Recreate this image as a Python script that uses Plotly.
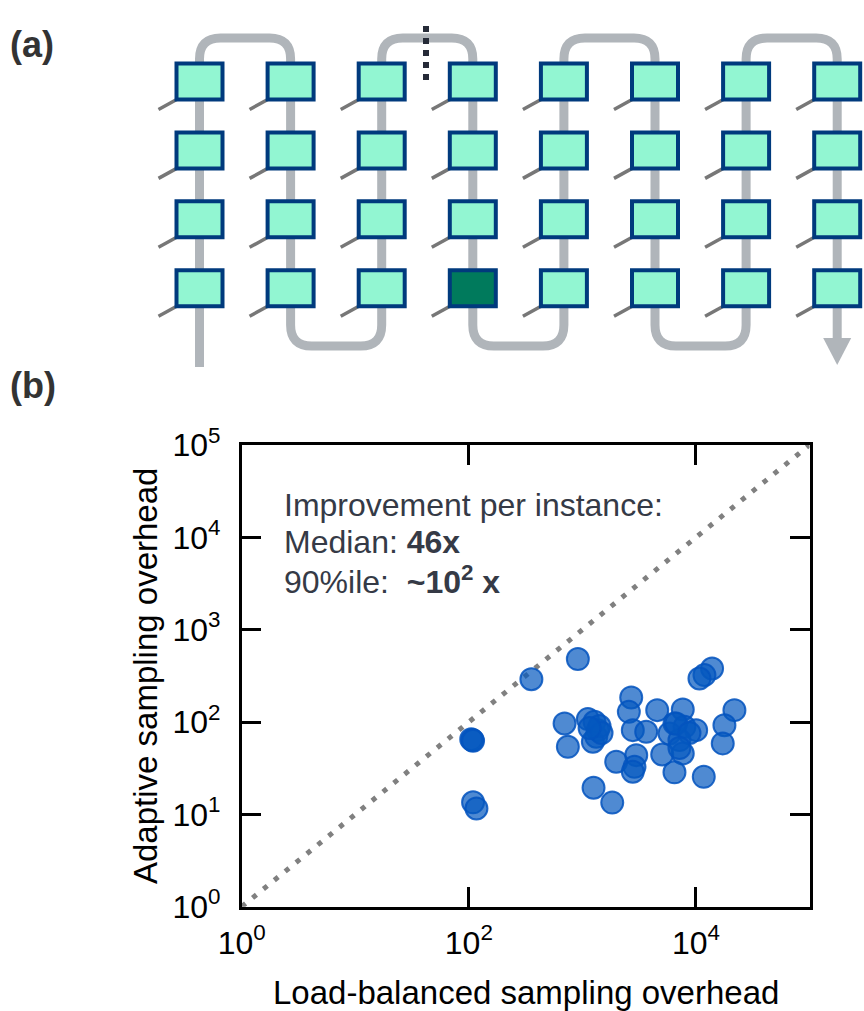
import plotly.graph_objects as go

# ---------------- data (panel b) ----------------
load_balanced = [107.6, 105, 109, 109, 116.7, 355.6, 912, 13870, 11885, 10740,
                 2692, 2565, 4560, 7655, 21820, 697, 1117, 1279, 1368, 1325,
                 1237, 745, 2780, 3648, 6470, 7925, 10045, 5845, 17820, 17220,
                 7160, 7655, 5045, 2980, 1986, 2877, 2780, 6470, 11720, 1254,
                 1832, 6690, 8770, 7160, 1416, 1475, 1157]
adaptive = [63.7, 65, 62.5, 13.5, 11.6, 291, 480, 380, 322, 296,
            184.6, 128.8, 134.5, 136.9, 134.5, 96.6, 107.5, 100.5, 81.7, 69.2,
            61.1, 53.9, 81.7, 78.3, 96.6, 88.7, 81.7, 75.3, 92.5, 58.7,
            63.7, 45.7, 44.6, 43.8, 37.1, 32.7, 28.9, 28.5, 25.5, 19.4,
            13.4, 96.6, 75.9, 52.2, 90.3, 75.9, 85.9]
diag = [1, 1e5]
y_tickvals = [1, 10, 100, 1e3, 1e4, 1e5]
y_ticktext = ["10<sup>0</sup>", "10<sup>1</sup>", "10<sup>2</sup>",
              "10<sup>3</sup>", "10<sup>4</sup>", "10<sup>5</sup>"]
x_tickvals = [1, 100, 1e4]
x_ticktext = ["10<sup>0</sup>", "10<sup>2</sup>", "10<sup>4</sup>"]

# ---------------- schematic (panel a) ----------------
n_cols = 8
n_rows = 4
highlight = (3, 3)  # (column, row)

W, H = 864, 1011
FONT = "Liberation Sans, Arial, sans-serif"

fig = go.Figure()

fig.add_trace(go.Scatter(x=diag, y=diag, mode="lines",
                         line=dict(color="#808080", width=5, dash="5px,9px"),
                         hoverinfo="skip", showlegend=False))
fig.add_trace(go.Scatter(x=load_balanced, y=adaptive, mode="markers",
                         marker=dict(size=22, color="rgba(4,88,191,0.70)",
                                     line=dict(color="rgba(4,84,190,0.85)", width=2)),
                         showlegend=False))

# pixel-space overlay axes for schematic
fig.add_trace(go.Scatter(x=[430], y=[200], xaxis="x2", yaxis="y2", mode="markers",
                         marker=dict(size=1, opacity=0), showlegend=False, hoverinfo="skip"))

shapes = []
col_x = [199.5 + 91.1 * i for i in range(n_cols)]
row_y = [81.5 + 68.9 * j for j in range(n_rows)]
T, B, S, r = 38, 346, 367, 21
pipe = "#b0b5ba"

# serpentine pipe
p = f"M {col_x[0]},{S} L {col_x[0]},{T + r}"
for i in range(n_cols - 1):
    a, b = col_x[i], col_x[i + 1]
    if i % 2 == 0:  # top connection
        p += f" Q {a},{T} {a + r},{T} L {b - r},{T} Q {b},{T} {b},{T + r}"
        nxt = B - r if i + 1 < n_cols - 1 else 338
        p += f" L {b},{nxt}"
    else:  # bottom connection
        p += f" Q {a},{B} {a + r},{B} L {b - r},{B} Q {b},{B} {b},{B - r} L {b},{T + r}"
shapes.append(dict(type="path", path=p, xref="x2", yref="y2",
                   line=dict(color=pipe, width=9), layer="above"))
cx = col_x[-1]
shapes.append(dict(type="path", path=f"M {cx - 14},{338} L {cx + 14},{338} L {cx},{365} Z",
                   xref="x2", yref="y2", fillcolor=pipe, line=dict(width=0), layer="above"))

# dotted cut line
shapes.append(dict(type="line", x0=426, x1=426, y0=26, y1=84, xref="x2", yref="y2",
                   line=dict(color="#262b38", width=6, dash="dot"), layer="above"))

bw, bh = 23, 18
for i in range(n_cols):
    for j in range(n_rows):
        x, y = col_x[i], row_y[j]
        shapes.append(dict(type="line", x0=x - bw - 18, y0=y + bh + 10, x1=x - bw + 2, y1=y + bh - 1,
                           xref="x2", yref="y2", line=dict(color="#777777", width=3.5), layer="above"))
for i in range(n_cols):
    for j in range(n_rows):
        x, y = col_x[i], row_y[j]
        fill = "#007a5c" if (i, j) == highlight else "#92f6d2"
        shapes.append(dict(type="rect", x0=x - bw, x1=x + bw, y0=y - bh, y1=y + bh,
                           xref="x2", yref="y2", fillcolor=fill,
                           line=dict(color="#003a7d", width=4), layer="above"))

x0p, x1p = 241.7 / W, 809.5 / W
y0p, y1p = 1 - 906.7 / H, 1 - 445 / H

axis_common = dict(type="log", range=[0, 5], showgrid=False, zeroline=False,
                   showline=True, linecolor="black", linewidth=2.5, mirror="allticks",
                   ticks="inside", ticklen=20, tickwidth=2.5, tickcolor="black",
                   automargin=False,
                   tickfont=dict(family=FONT, size=32, color="black"))

fig.update_layout(
    template="none",
    width=W, height=H, margin=dict(l=0, r=0, t=0, b=0, pad=0, autoexpand=False),
    paper_bgcolor="white", plot_bgcolor="rgba(0,0,0,0)", showlegend=False,
    xaxis=dict(domain=[x0p, x1p], tickvals=x_tickvals, ticktext=x_ticktext,
               ticklabelstandoff=6, **axis_common),
    yaxis=dict(domain=[y0p, y1p], tickvals=y_tickvals, ticktext=y_ticktext,
               ticklabelstandoff=12, **axis_common),
    xaxis2=dict(domain=[0, 1], range=[0, W], visible=False, anchor="y2",
                fixedrange=True, automargin=False),
    yaxis2=dict(domain=[0, 1], range=[H, 0], visible=False, anchor="x2",
                fixedrange=True, automargin=False),
    shapes=shapes,
    font=dict(family=FONT),
)

ann_col = "#353a46"
anns = [
    dict(text="<b>(a)</b>", x=8 / W, y=1 - 45 / H, xanchor="left", yanchor="middle",
         font=dict(size=36, color="#333333")),
    dict(text="<b>(b)</b>", x=8 / W, y=1 - 385 / H, xanchor="left", yanchor="middle",
         font=dict(size=36, color="#333333")),
    dict(text="Improvement per instance:", x=282 / W, y=1 - 505 / H, xanchor="left",
         yanchor="middle", font=dict(size=32, color=ann_col)),
    dict(text="Median: <b>46x</b>", x=282 / W, y=1 - 542 / H, xanchor="left",
         yanchor="middle", font=dict(size=32, color=ann_col)),
    dict(text="90%ile:\u00a0 <b>~10<sup>2</sup> x</b>", x=282 / W, y=1 - 580 / H, xanchor="left",
         yanchor="middle", font=dict(size=32, color=ann_col)),
    dict(text="Load-balanced sampling overhead", x=(241.7 + 809.5) / 2 / W, y=1 - 992 / H,
         xanchor="center", yanchor="middle", font=dict(size=33, color="black")),
    dict(text="Adaptive sampling overhead", x=145 / W, y=1 - 676 / H, textangle=-90,
         xanchor="center", yanchor="middle", font=dict(size=33, color="black")),
]
for a in anns:
    a.update(xref="paper", yref="paper", showarrow=False)
    a["font"]["family"] = FONT
fig.update_layout(annotations=anns)

fig.write_html("out.html")
